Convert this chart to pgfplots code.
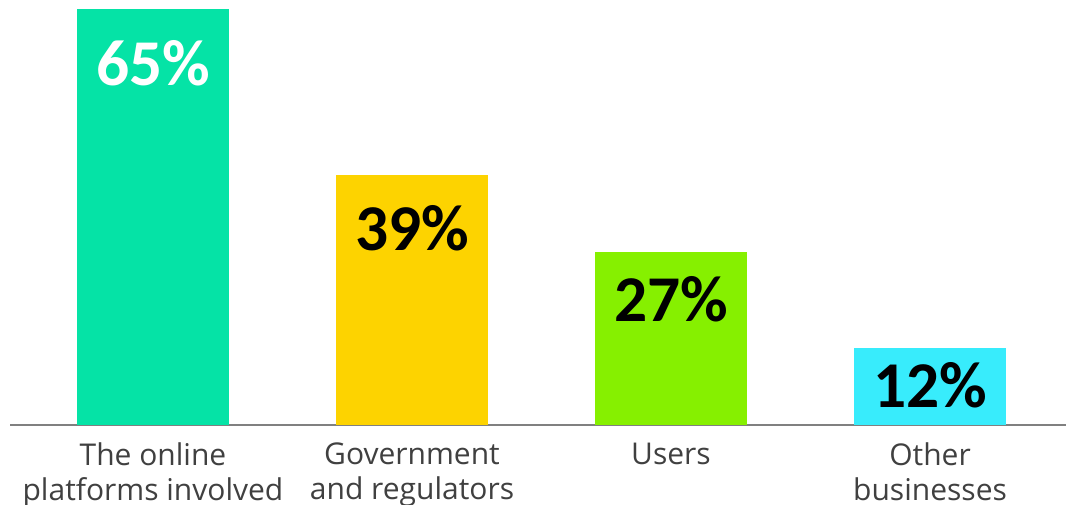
\documentclass[border=0pt]{standalone}
\usepackage{pgfplots}
\pgfplotsset{compat=1.18}
\usepackage{fontspec}
\setmainfont{Carlito}
\newfontfamily\labfont{Open Sans}
\definecolor{c1}{HTML}{05E3A6}
\definecolor{c2}{HTML}{FDD300}
\definecolor{c3}{HTML}{86F000}
\definecolor{c4}{HTML}{38ECFC}
\definecolor{axisgray}{HTML}{808080}
\definecolor{labgray}{HTML}{404040}
\begin{document}
\begin{tikzpicture}
\path[use as bounding box] (0,0) rectangle (799.5pt,378.75pt);
\begin{axis}[
  at={(7.5pt,60pt)}, anchor=south west,
  scale only axis, width=792pt, height=318.75pt,
  xmin=-0.552, xmax=3.525, ymin=0, ymax=66.4,
  axis x line*=bottom, axis y line=none,
  x axis line style={axisgray, line width=1.5pt, -},
  xtick={0,1,2,3},
  xticklabels={{The online\\platforms involved},{Government\\and regulators},{Users},{Other\\businesses}},
  xticklabel style={align=center, font=\labfont\fontsize{22.5}{26}\selectfont, text=labgray, anchor=north, yshift=-10pt},
  major tick length=0pt,
  ybar, bar width=114pt, bar shift=0pt,
  every node near coord/.style={anchor=base, font=\fontsize{49}{52}\selectfont\bfseries},
  clip=false,
]
\addplot[fill=c1, draw=none, nodes near coords={65\%}, nodes near coords style={text=white, yshift=-57.75pt}] coordinates {(0,65)};
\addplot[fill=c2, draw=none, nodes near coords={39\%}, nodes near coords style={text=black, yshift=-56.25pt}] coordinates {(1,39)};
\addplot[fill=c3, draw=none, nodes near coords={27\%}, nodes near coords style={text=black, yshift=-51.75pt}] coordinates {(2,27)};
\addplot[fill=c4, draw=none, nodes near coords={12\%}, nodes near coords style={text=black, yshift=-44.25pt}] coordinates {(3,12)};
\end{axis}
\end{tikzpicture}
\end{document}
